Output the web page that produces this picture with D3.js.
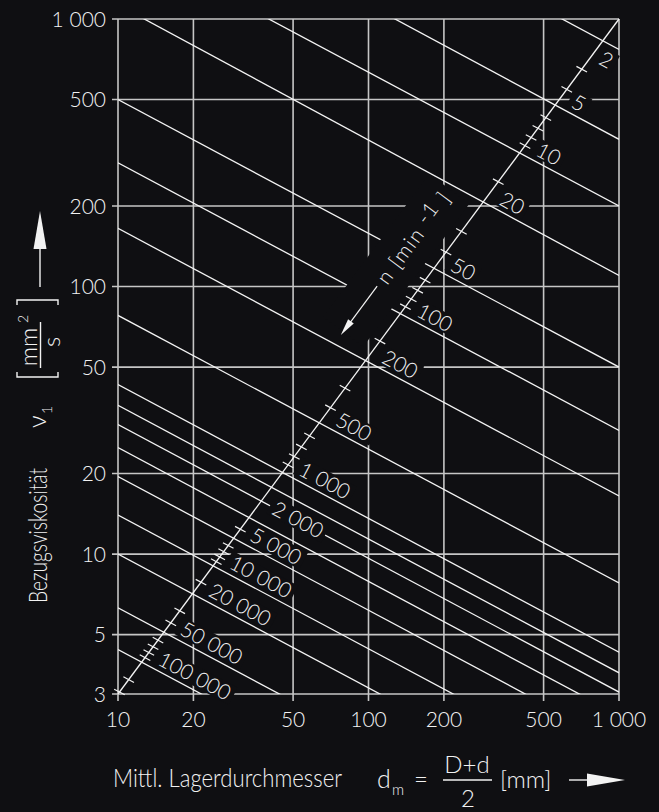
<!DOCTYPE html>
<html lang="de">
<head>
<meta charset="UTF-8">
<title>Bezugsviskosität</title>
<script src="https://cdn.jsdelivr.net/npm/d3@7"></script>
<style>
    body { margin: 0; background: #0f0f12; }
    svg { display: block; }
    text { font-family: Lato, "Open Sans", sans-serif; font-weight: 300; fill: #f2f2f2; }
</style>
</head>
<body>
<script>

    // Drehzahlen n [min-1], je Wert eine Linie
    var speeds   = [2, 5, 10, 20, 50, 100, 200, 500, 1000, 1500, 2000, 3000, 5000, 10000, 20000, 50000, 100000];
    var nuAt10   = [7700, 3600, 2000, 1130, 500, 290, 165, 78, 43, 36, 30.5, 25, 19.5, 14, 10, 6.3, 4.4];
    var nuAt1000 = [770, 355, 200, 110, 50, 29, 16.5, 7.8, 4.3, 3.6, 3.05, 2.5, 1.95, 1.4, 1.0, 0.63, 0.44];
    // beschriftete Linien
    var labelled = [2, 5, 10, 20, 50, 100, 200, 500, 1000, 2000, 5000, 10000, 20000, 50000, 100000];
    // Zwischenstriche auf der n-Achse
    var nTicks = [3, 4, 6, 7, 8, 9, 15, 30, 40, 60, 70, 80, 90, 150, 300, 400, 600, 700, 800, 900,
                  4000, 6000, 7000, 8000, 9000, 15000, 30000, 40000, 60000, 70000, 80000, 90000, 150000, 200000];
    // Achsen
    var xTicks = [10, 20, 50, 100, 200, 500, 1000];
    var yTicks = [3, 5, 10, 20, 50, 100, 200, 500, 1000];

    var bg = "#0f0f12";
    var gridColor = "#c6c6c6";
    var lineColor = "#f4f4f4";

    function fmt(v) {
        return String(v).replace(/\B(?=(\d{3})+(?!\d))/g, " ");
    }

    // Schnittpunkt zweier Geraden (Pixel)
    function intersect(p1, p2, p3, p4) {
        var d = (p1[0] - p2[0]) * (p3[1] - p4[1]) - (p1[1] - p2[1]) * (p3[0] - p4[0]);
        var t = ((p1[0] - p3[0]) * (p3[1] - p4[1]) - (p1[1] - p3[1]) * (p3[0] - p4[0])) / d;
        return [p1[0] + t * (p2[0] - p1[0]), p1[1] + t * (p2[1] - p1[1])];
    }

    // Zeichenfläche
    var width = 659;
    var height = 812;
    var pLeft = 118, pRight = 619, pTop = 19, pBottom = 694;

    var svg = d3.select("body")
        .append("svg")
        .attr("width", width)
        .attr("height", height);

    svg.append("rect")
        .attr("width", width)
        .attr("height", height)
        .attr("fill", bg);

    var x = d3.scaleLog().domain([10, 1000]).range([pLeft, pRight]);
    var y = d3.scaleLog().domain([3, 1000]).range([pBottom, pTop]);

    // n -> log(nu) an beiden Rändern, stückweise über die Linien
    var nLeft = d3.scaleLog().domain(speeds).range(nuAt10.map(Math.log10));
    var nRight = d3.scaleLog().domain(speeds).range(nuAt1000.map(Math.log10));

    svg.append("clipPath")
        .attr("id", "plot")
        .append("rect")
        .attr("x", pLeft).attr("y", pTop)
        .attr("width", pRight - pLeft).attr("height", pBottom - pTop);

    // Gitter mit Strichen nach außen
    svg.append("g").selectAll("line")
        .data(xTicks)
        .enter()
        .append("line")
        .attr("x1", function (d) { return x(d); })
        .attr("x2", function (d) { return x(d); })
        .attr("y1", pTop)
        .attr("y2", pBottom + 7)
        .attr("stroke", gridColor)
        .attr("stroke-width", 1.6);

    svg.append("g").selectAll("line")
        .data(yTicks)
        .enter()
        .append("line")
        .attr("x1", pLeft - 6)
        .attr("x2", pRight)
        .attr("y1", function (d) { return y(d); })
        .attr("y2", function (d) { return y(d); })
        .attr("stroke", gridColor)
        .attr("stroke-width", 1.6);

    // Achsbeschriftung
    svg.append("g").selectAll("text")
        .data(yTicks)
        .enter()
        .append("text")
        .attr("x", pLeft - 12)
        .attr("y", function (d) { return y(d); })
        .attr("dy", "0.36em")
        .attr("text-anchor", "end")
        .attr("font-size", 21)
        .text(fmt);

    svg.append("g").selectAll("text")
        .data(xTicks)
        .enter()
        .append("text")
        .attr("x", function (d) { return x(d); })
        .attr("y", 727)
        .attr("text-anchor", "middle")
        .attr("font-size", 21)
        .text(fmt);

    // Viskositätslinien
    var diagA = [x(10), y(3)];
    var diagB = [x(1000), y(1000)];

    var lineGen = d3.line()
        .x(function (d) { return x(d[0]); })
        .y(function (d) { return y(d[1]); });

    var lines = speeds.map(function (n, i) {
        return { n: n, pts: [[10, nuAt10[i]], [1000, nuAt1000[i]]] };
    });

    svg.append("g")
        .attr("clip-path", "url(#plot)")
        .selectAll("path")
        .data(lines)
        .enter()
        .append("path")
        .attr("d", function (d) { return lineGen(d.pts); })
        .attr("fill", "none")
        .attr("stroke", lineColor)
        .attr("stroke-width", 1.3);

    // Lage einer Linie auf der Diagonalen + Richtung
    function crossing(p, q) {
        var c = intersect(p, q, diagA, diagB);
        var len = Math.hypot(q[0] - p[0], q[1] - p[1]);
        return { c: c, e: [(q[0] - p[0]) / len, (q[1] - p[1]) / len] };
    }

    // Beschriftung der Linien (Hintergrund deckt Gitter ab)
    var labelNudge = { 2: [6, -15], 2000: [14, 1] };
    var labelData = labelled.map(function (n) {
        var i = speeds.indexOf(n);
        var k = crossing([x(10), y(nuAt10[i])], [x(1000), y(nuAt1000[i])]);
        var nudge = labelNudge[n] || [14, 13];
        return { n: n, c: k.c, angle: Math.atan2(k.e[1], k.e[0]) * 180 / Math.PI, s: nudge[0], up: nudge[1] };
    });

    var maskLayer = svg.append("g");
    var axisLayer = svg.append("g");
    var textLayer = svg.append("g");

    var labels = textLayer.selectAll("g")
        .data(labelData)
        .enter()
        .append("g")
        .attr("transform", function (d) {
            return "translate(" + d.c[0] + "," + d.c[1] + ") rotate(" + d.angle + ")";
        });

    labels.append("text")
        .attr("x", function (d) { return d.s; })
        .attr("y", function (d) { return -d.up; })
        .attr("dy", "0.36em")
        .attr("font-size", 21)
        .text(function (d) { return fmt(d.n); })
        .each(function (d) { d.w = this.getComputedTextLength(); });

    maskLayer.selectAll("rect")
        .data(labelData)
        .enter()
        .append("rect")
        .attr("transform", function (d) {
            return "translate(" + d.c[0] + "," + d.c[1] + ") rotate(" + d.angle + ")";
        })
        .attr("x", function (d) { return d.s - 4; })
        .attr("y", function (d) { return -d.up - 9.5; })
        .attr("width", function (d) { return d.w + 8; })
        .attr("height", 19)
        .attr("fill", bg);

    // n-Achse (Diagonale)
    axisLayer.append("line")
        .attr("x1", diagA[0]).attr("y1", diagA[1])
        .attr("x2", diagB[0]).attr("y2", diagB[1])
        .attr("stroke", lineColor)
        .attr("stroke-width", 1.3);

    axisLayer.selectAll("line.tick")
        .data(nTicks)
        .enter()
        .append("line")
        .attr("class", "tick")
        .each(function (n) {
            var k = crossing([x(10), y(Math.pow(10, nLeft(n)))], [x(1000), y(Math.pow(10, nRight(n)))]);
            d3.select(this)
                .attr("x1", k.c[0] - 6 * k.e[0]).attr("y1", k.c[1] - 6 * k.e[1])
                .attr("x2", k.c[0] + 6 * k.e[0]).attr("y2", k.c[1] + 6 * k.e[1]);
        })
        .attr("stroke", lineColor)
        .attr("stroke-width", 1.2);

    // Beschriftung n [min-1] mit Pfeil
    var diagAngle = Math.atan2(diagB[1] - diagA[1], diagB[0] - diagA[0]) * 180 / Math.PI;
    var diagT = "translate(" + diagA[0] + "," + diagA[1] + ") rotate(" + diagAngle + ")";

    maskLayer.append("rect")
        .attr("transform", diagT)
        .attr("x", 425).attr("y", -60)
        .attr("width", 178).attr("height", 50)
        .attr("fill", bg);

    var nAxis = textLayer.append("g").attr("transform", diagT);
    var nLabel = nAxis.append("text")
        .attr("x", 488)
        .attr("y", -27)
        .attr("font-size", 21)
        .attr("textLength", 108)
        .attr("lengthAdjust", "spacing");
    nLabel.append("tspan").text("n [min ");
    nLabel.append("tspan").attr("dy", -4).text("-1");
    nLabel.append("tspan").attr("dy", 4).text("  ]");

    nAxis.append("line")
        .attr("x1", 482).attr("y1", -35)
        .attr("x2", 436).attr("y2", -35)
        .attr("stroke", lineColor)
        .attr("stroke-width", 1.2);
    nAxis.append("path")
        .attr("d", "M421,-35L438,-38.5L438,-31.5Z")
        .attr("fill", lineColor);

    // Titel y-Achse
    var yt = svg.append("g").attr("transform", "rotate(-90)");
    yt.append("text")
        .attr("x", -603).attr("y", 47)
        .attr("font-size", 25)
        .attr("textLength", 135)
        .attr("lengthAdjust", "spacingAndGlyphs")
        .text("Bezugsviskosität");
    yt.append("text")
        .attr("x", -428).attr("y", 46)
        .attr("font-size", 25)
        .text("ν");
    yt.append("text")
        .attr("x", -414).attr("y", 52)
        .attr("font-size", 14)
        .text("1");
    yt.append("text")
        .attr("x", -347).attr("y", 37)
        .attr("text-anchor", "middle")
        .attr("font-size", 24)
        .text("mm");
    yt.append("text")
        .attr("x", -323).attr("y", 28)
        .attr("font-size", 14)
        .text("2");
    yt.append("line")
        .attr("x1", -368).attr("x2", -322)
        .attr("y1", 40.5).attr("y2", 40.5)
        .attr("stroke", "#f2f2f2").attr("stroke-width", 1.4);
    yt.append("text")
        .attr("x", -342).attr("y", 60)
        .attr("text-anchor", "middle")
        .attr("font-size", 24)
        .text("s");
    yt.append("path")
        .attr("d", "M-372,17H-377V58H-372M-305,17H-300V58H-305")
        .attr("fill", "none")
        .attr("stroke", "#f2f2f2").attr("stroke-width", 1.4);

    svg.append("line")
        .attr("x1", 40).attr("x2", 40)
        .attr("y1", 287).attr("y2", 247)
        .attr("stroke", "#f2f2f2").attr("stroke-width", 1.4);
    svg.append("path")
        .attr("d", "M40,211L46.5,249H33.5Z")
        .attr("fill", "#f2f2f2");

    // Titel x-Achse
    svg.append("text")
        .attr("x", 113).attr("y", 787)
        .attr("font-size", 25)
        .attr("textLength", 229)
        .attr("lengthAdjust", "spacingAndGlyphs")
        .text("Mittl. Lagerdurchmesser");
    svg.append("text")
        .attr("x", 377).attr("y", 788)
        .attr("font-size", 25)
        .text("d");
    svg.append("text")
        .attr("x", 392).attr("y", 795)
        .attr("font-size", 15)
        .text("m");
    svg.append("text")
        .attr("x", 421).attr("y", 788)
        .attr("text-anchor", "middle")
        .attr("font-size", 24)
        .text("=");
    svg.append("text")
        .attr("x", 467).attr("y", 773)
        .attr("text-anchor", "middle")
        .attr("font-size", 24)
        .text("D+d");
    svg.append("line")
        .attr("x1", 443).attr("x2", 492)
        .attr("y1", 780).attr("y2", 780)
        .attr("stroke", "#f2f2f2").attr("stroke-width", 1.4);
    svg.append("text")
        .attr("x", 468).attr("y", 807)
        .attr("text-anchor", "middle")
        .attr("font-size", 24)
        .text("2");
    svg.append("text")
        .attr("x", 500).attr("y", 788)
        .attr("font-size", 24)
        .text("[mm]");
    svg.append("line")
        .attr("x1", 569).attr("x2", 589)
        .attr("y1", 780).attr("y2", 780)
        .attr("stroke", "#f2f2f2").attr("stroke-width", 1.4);
    svg.append("path")
        .attr("d", "M625,780L587,773.5V786.5Z")
        .attr("fill", "#f2f2f2");

</script>
</body>
</html>
